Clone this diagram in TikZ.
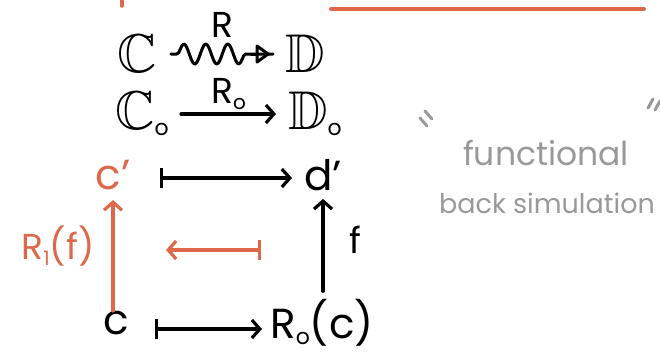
\documentclass[tikz,border=0pt]{standalone}
\usepackage{amssymb}
\usepackage{fontspec}
\setmainfont{Poppins}
\usetikzlibrary{arrows.meta,decorations.pathmorphing}
\definecolor{sketchorange}{HTML}{E0684A}
\definecolor{sketchgray}{HTML}{999999}
\newcommand{\bigbb}[1]{\scalebox{1.3}{$\mathbb{#1}$}}
\tikzset{
  lbl/.style={inner sep=1pt, font=\fontsize{36}{40}\selectfont},
  obj/.style={inner sep=2pt, font=\fontsize{42}{44}\selectfont},
  bbobj/.style={inner sep=0pt, font=\fontsize{42}{44}\selectfont},
  arr/.style={line width=3.2pt, line cap=round, -{Straight Barb[length=8pt,width=18pt,line width=3.2pt]}},
  mapsto/.style={line width=3.2pt, line cap=round, {Bar[width=20pt,line width=3.2pt]}-{Straight Barb[length=8pt,width=18pt,line width=3.2pt]}},
  wig/.style={line width=3pt, line cap=round, line join=round, decorate, decoration={snake, amplitude=10pt, segment length=22pt, pre length=6pt, post length=22pt}},
  note/.style={text=sketchgray, align=center},
  quot/.style={sketchgray, line width=3pt, line cap=round},
}
\begin{document}
\begin{tikzpicture}[x=1pt,y=-1pt]
\useasboundingbox (0,0) rectangle (660,359);
% top decorations
\draw[sketchorange, line width=3.5pt, line cap=round] (122,0) -- (122,6);
\draw[sketchorange, line width=4pt, line cap=round] (331,9) -- (644,9);
% objects
\node[bbobj] (C) at (137,54) {\bigbb{C}};
\node[bbobj] (D) at (305,54) {\bigbb{D}};
\node[bbobj] (C0) at (142,114) {\bigbb{C}\raisebox{-6pt}{\fontsize{22}{22}\selectfont o}};
\node[bbobj] (D0) at (315,114) {\bigbb{D}\raisebox{-6pt}{\fontsize{22}{22}\selectfont o}};
\node[obj, text=sketchorange] (cp) at (113,175) {c’};
\node[obj] (dp) at (323,175) {d’};
\node[obj] (c) at (116,323) {c};
\node[obj] (R0c) at (322,323) {R\raisebox{-6pt}{\fontsize{22}{22}\selectfont o}(c)};
% labels
\node[lbl, text=sketchorange] (R1f) at (58,246) {R\raisebox{-6pt}{\fontsize{20}{20}\selectfont 1}(f)};
\node[lbl] (f) at (355,240) {f};
% arrows
\draw[wig] ([xshift=14pt]C.east) -- ([xshift=-12pt]D.west) node[lbl, midway, above=14pt] (R) {R};
\draw[line width=3pt, line cap=round] ([xshift=-34pt]D.west) -- ([xshift=-28pt]D.west);
\draw[line width=3pt, line join=round] ([xshift=-28pt,yshift=8pt]D.west) -- ([xshift=-17pt]D.west) -- ([xshift=-28pt,yshift=-8pt]D.west) -- cycle;
\draw[arr] ([xshift=12pt]C0.east) -- ([xshift=-12pt]D0.west) node[lbl, midway, above=2pt] (R0) {R\raisebox{-6pt}{\fontsize{20}{20}\selectfont o}};
\coordinate (a1) at (160,178);
\coordinate (a2) at (292,178);
\draw[mapsto] (a1) -- (a2);
\coordinate (b1) at (155,329);
\coordinate (b2) at (262,329);
\draw[mapsto] (b1) -- (b2);
\draw[arr, sketchorange] ([yshift=-2pt]c.north -| cp) -- ([yshift=-8pt]cp.south);
\draw[arr] ([yshift=6pt]R0c.north -| dp) -- ([yshift=-6pt]dp.south);
\coordinate (o1) at (261,250);
\coordinate (o2) at (166,250);
\draw[mapsto, sketchorange] (o1) -- (o2);
% note
\node[note, font=\fontsize{33}{36}\selectfont] (n1) at (546,153) {functional};
\node[note, font=\fontsize{27}{32}\selectfont] (n2) at (547,203) {back simulation};
\draw[quot] (420,118) -- (427,126);
\draw[quot] (425,111) -- (432,119);
\draw[quot] (648,108) -- (653,99);
\draw[quot] (655,110) -- (660,101);
\end{tikzpicture}
\end{document}
